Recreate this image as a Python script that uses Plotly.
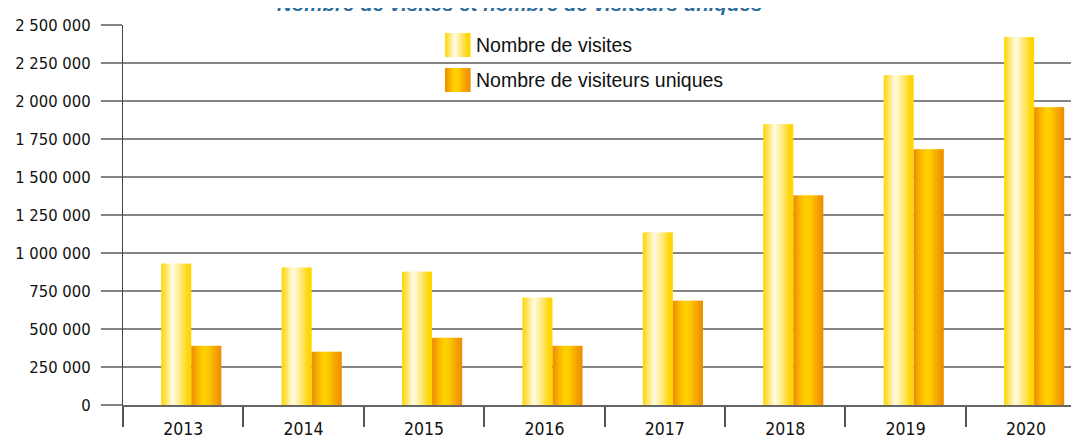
import plotly.graph_objs as go

years = ['2013', '2014', '2015', '2016', '2017', '2018', '2019', '2020']
visites = [930000, 904000, 877000, 706000, 1135000, 1847000, 2170000, 2421000]
visiteurs = [389000, 350000, 442000, 389000, 686000, 1379000, 1682000, 1959000]
series_names = ['Nombre de visites', 'Nombre de visiteurs uniques']
title_text = 'Nombre de visites et nombre de visiteurs uniques'

# the page body keeps its 8px margin, so the figure is sized to fit inside the window
OFF = 8
W, H = 1079 - OFF, 442 - OFF
ML, MR, MT, MB = 123 - OFF, 0, 25 - OFF, 37

# gradient stops (position, rgb) to fake the shaded bars
grad_visites = [(0.0, (255, 212, 0)), (0.12, (255, 224, 70)), (0.38, (255, 252, 232)),
                (0.7, (255, 228, 100)), (0.88, (255, 215, 10)), (1.0, (255, 212, 0))]
grad_uniques = [(0.0, (238, 138, 0)), (0.2, (248, 178, 0)), (0.42, (255, 212, 0)),
                (0.6, (252, 196, 0)), (0.85, (243, 155, 0)), (1.0, (238, 140, 0))]
NSLICE = 14


def colour_at(stops, t):
    for (p0, c0), (p1, c1) in zip(stops[:-1], stops[1:]):
        if p0 <= t <= p1:
            f = (t - p0) / (p1 - p0) if p1 > p0 else 0
            c = [round(a + (b - a) * f) for a, b in zip(c0, c1)]
            return 'rgb(%d,%d,%d)' % tuple(c)
    return 'rgb(%d,%d,%d)' % stops[-1][1]


def gradient_bars(values, start, width, stops):
    traces = []
    w = width / NSLICE
    for i in range(NSLICE):
        t = (i + 0.5) / NSLICE
        # slices overlap a little so no hairline gaps show between them
        sw = w if i == NSLICE - 1 else w * 1.7
        traces.append(go.Bar(x=years, y=values, offset=start + i * w, width=sw,
                             marker=dict(color=colour_at(stops, t), line=dict(width=0)),
                             showlegend=False, hoverinfo='skip'))
    return traces


data = gradient_bars(visites, -0.183, 0.25, grad_visites) + \
       gradient_bars(visiteurs, 0.067, 0.25, grad_uniques)

# legend drawn by hand so the swatches can carry the gradient
pw = W - ML - MR
ph = H - MT - MB


def px_x(x):
    return (x - OFF - ML) / pw


def px_y(y):
    return (H - MB - (y - OFF)) / ph


shapes = []
annotations = []
for k, (stops, top) in enumerate([(grad_visites, 33), (grad_uniques, 68)]):
    x0, x1 = 445, 470
    step = (x1 - x0) / NSLICE
    for i in range(NSLICE):
        t = (i + 0.5) / NSLICE
        shapes.append(dict(type='rect', xref='paper', yref='paper',
                           x0=px_x(x0 + i * step), x1=px_x(x0 + (i + 1) * step + 0.6),
                           y0=px_y(top + 24), y1=px_y(top),
                           fillcolor=colour_at(stops, t), line=dict(width=0), layer='above'))
    annotations.append(dict(text=series_names[k], xref='paper', yref='paper',
                            x=px_x(474), y=px_y(top + 12), xanchor='left', yanchor='middle',
                            showarrow=False,
                            font=dict(family='Liberation Sans, Arial', size=19.5, color='#111')))

annotations.append(dict(text='<b><i>' + title_text + '</i></b>', xref='paper', yref='paper',
                        x=px_x(519), y=px_y(17), xanchor='center', yanchor='bottom',
                        showarrow=False,
                        font=dict(family='Liberation Sans, Arial', size=20.5, color='#2e6e9c')))

xfont = dict(family='DejaVu Sans Condensed, Liberation Sans Narrow, Roboto', size=17.5, color='#111')
yfont = dict(family='DejaVu Sans Condensed, Liberation Sans Narrow, Roboto', size=16.5, color='#111')

layout = go.Layout(
    width=W, height=H,
    margin=dict(l=ML, r=MR, t=MT, b=MB, pad=0),
    paper_bgcolor='white', plot_bgcolor='white',
    barmode='overlay', separators=', ', showlegend=False,
    xaxis=dict(type='category', range=[-0.5, 7.44], tickson='boundaries',
               ticks='outside', ticklen=20, tickwidth=1.5, tickcolor='#555',
               showline=True, linecolor='#666', linewidth=1.5, automargin=False,
               showgrid=False, tickfont=xfont, ticklabelstandoff=7, fixedrange=True),
    yaxis=dict(range=[0, 2500000], tickvals=[i * 250000 for i in range(11)],
               tickformat=',d', ticks='outside', ticklen=21, tickwidth=2,
               tickcolor='#858585', showline=True, linecolor='#444', linewidth=1,
               showgrid=True, gridcolor='#858585', gridwidth=2, zeroline=False,
               automargin=False, tickfont=yfont, ticklabelstandoff=7),
    shapes=shapes, annotations=annotations,
)

fig = go.Figure(data=data, layout=layout)
fig.write_html('out.html')
